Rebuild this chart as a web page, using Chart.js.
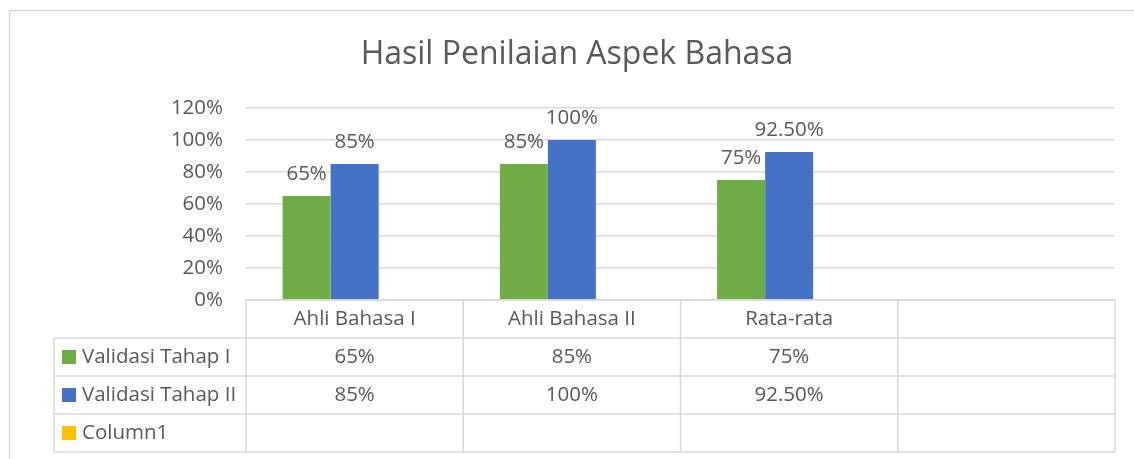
<!DOCTYPE html>
<html>
<head>
<meta charset="utf-8">
<script src="https://cdn.jsdelivr.net/npm/chart.js@4"></script>
<style>
    body { margin: 0; background: #fff; }
    #wrap { width: 1134px; height: 459px; position: relative; }
</style>
</head>
<body>
<div id="wrap"><canvas id="chart"></canvas></div>
<script>
// Chart data
const chartTitle = 'Hasil Penilaian Aspek Bahasa';
const categories = ['Ahli Bahasa I', 'Ahli Bahasa II', 'Rata-rata', ''];
const seriesNames = ['Validasi Tahap I', 'Validasi Tahap II', 'Column1'];
const tahap1 = [0.65, 0.85, 0.75, null];
const tahap2 = [0.85, 1.00, 0.925, null];
const column1 = [null, null, null, null];
const seriesColors = ['#70AD47', '#4472C4', '#FFC000'];

const textColor = '#595959';
const lineColor = '#D9D9D9';
const fontFamily = "'Open Sans', sans-serif";

function fmtPct(v) {
    if (v === null || v === undefined) return '';
    const p = Math.round(v * 10000) / 100;
    return Number.isInteger(p) ? p + '%' : p.toFixed(2) + '%';
}

// Outer frame + title
const framePlugin = {
    id: 'frame',
    beforeDraw(chart) {
        const ctx = chart.ctx;
        ctx.save();
        ctx.fillStyle = '#fff';
        ctx.fillRect(0, 0, chart.width, chart.height);
        ctx.strokeStyle = lineColor;
        ctx.lineWidth = 1.5;
        ctx.beginPath();
        ctx.moveTo(9.5, chart.height);
        ctx.lineTo(9.5, 10.5);
        ctx.lineTo(chart.width, 10.5);
        ctx.stroke();
        ctx.fillStyle = textColor;
        ctx.font = '32px ' + fontFamily;
        ctx.textAlign = 'center';
        ctx.textBaseline = 'middle';
        ctx.fillText(chartTitle, 577, 55);
        ctx.restore();
    }
};

// Value labels above bars
const valueLabels = {
    id: 'valueLabels',
    afterDatasetsDraw(chart) {
        const ctx = chart.ctx;
        ctx.save();
        ctx.fillStyle = textColor;
        ctx.font = '20.5px ' + fontFamily;
        ctx.textAlign = 'center';
        ctx.textBaseline = 'bottom';
        chart.data.datasets.forEach((ds, i) => {
            const meta = chart.getDatasetMeta(i);
            meta.data.forEach((bar, j) => {
                const v = ds.data[j];
                if (v === null) return;
                ctx.fillText(fmtPct(v), bar.x, bar.y - 12);
            });
        });
        ctx.restore();
    }
};

// Data table under the plot
const dataTable = {
    id: 'dataTable',
    afterDraw(chart) {
        const ctx = chart.ctx;
        const area = chart.chartArea;
        const rowH = 38;
        const tableLeft = 54;
        const colW = (area.right - area.left) / categories.length;
        const top = area.bottom;
        const rows = [tahap1, tahap2, column1];
        ctx.save();
        ctx.strokeStyle = lineColor;
        ctx.lineWidth = 1.5;
        ctx.beginPath();
        // horizontal lines
        ctx.moveTo(area.left, top);
        ctx.lineTo(area.right, top);
        for (let r = 1; r <= rows.length + 1; r++) {
            const y = top + r * rowH;
            ctx.moveTo(tableLeft, y);
            ctx.lineTo(area.right, y);
        }
        // vertical lines
        ctx.moveTo(tableLeft, top + rowH);
        ctx.lineTo(tableLeft, top + (rows.length + 1) * rowH);
        for (let c = 0; c <= categories.length; c++) {
            const x = area.left + c * colW;
            ctx.moveTo(x, top);
            ctx.lineTo(x, top + (rows.length + 1) * rowH);
        }
        ctx.stroke();

        ctx.fillStyle = textColor;
        ctx.font = '20.5px ' + fontFamily;
        ctx.textBaseline = 'middle';
        ctx.textAlign = 'center';
        categories.forEach((cat, c) => {
            ctx.fillText(cat, area.left + (c + 0.5) * colW, top + rowH / 2);
        });
        rows.forEach((vals, r) => {
            const cy = top + (r + 1.5) * rowH;
            ctx.textAlign = 'center';
            vals.forEach((v, c) => {
                ctx.fillText(fmtPct(v), area.left + (c + 0.5) * colW, cy);
            });
            ctx.fillStyle = seriesColors[r];
            ctx.fillRect(62, cy - 7, 14, 14);
            ctx.fillStyle = textColor;
            ctx.textAlign = 'left';
            ctx.fillText(seriesNames[r], 82, cy);
        });
        ctx.restore();
    }
};

new Chart(document.getElementById('chart'), {
    type: 'bar',
    data: {
        labels: categories,
        datasets: [
            { label: seriesNames[0], data: tahap1, backgroundColor: seriesColors[0] },
            { label: seriesNames[1], data: tahap2, backgroundColor: seriesColors[1] },
            { label: seriesNames[2], data: column1, backgroundColor: seriesColors[2] }
        ]
    },
    options: {
        responsive: true,
        maintainAspectRatio: false,
        animation: false,
        datasets: {
            bar: { categoryPercentage: 0.663, barPercentage: 1 }
        },
        layout: { padding: { top: 108, right: 19, bottom: 159, left: 0 } },
        plugins: {
            legend: { display: false },
            title: { display: false },
            tooltip: { enabled: false }
        },
        scales: {
            x: { display: false },
            y: {
                min: 0,
                max: 1.2,
                afterFit(scale) { scale.width = 246; },
                border: { display: false },
                grid: { color: lineColor, lineWidth: 1.5, drawTicks: false },
                ticks: {
                    stepSize: 0.2,
                    padding: 23,
                    color: textColor,
                    font: { family: fontFamily, size: 20.5 },
                    callback: function(value) {
                        return Math.round(value * 100) + '%';
                    }
                }
            }
        }
    },
    plugins: [framePlugin, valueLabels, dataTable]
});
</script>
</body>
</html>
